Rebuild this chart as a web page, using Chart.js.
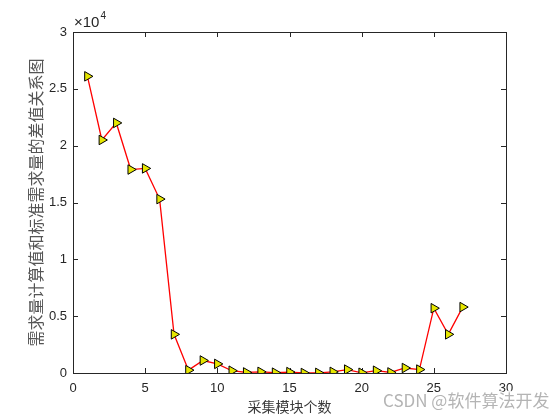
<!DOCTYPE html>
<html>
<head>
<meta charset="utf-8">
<script src="https://cdn.jsdelivr.net/npm/chart.js@4/dist/chart.umd.min.js"></script>
<style>
  html, body { margin: 0; padding: 0; background: #fff; }
  #wrap { width: 560px; height: 420px; position: relative; }
</style>
</head>
<body>
<div id="wrap"><canvas id="c"></canvas></div>
<script>
// ── data ──
const moduleCount = [1, 2, 3, 4, 5, 6, 7, 8, 9, 10, 11, 12, 13, 14, 15, 16, 17, 18, 19, 20, 21, 22, 23, 24, 25, 26, 27];
const diffValues = [26100, 20500, 22000, 17900, 18000, 15300, 3400, 250, 1100, 800, 200, 50, 100, 30, 80, 0, 10, 100, 300, 20, 200, 50, 440, 300, 5700, 3400, 5800];
const xTicks = [0, 5, 10, 15, 20, 25, 30];
const yTicks = [0, 5000, 10000, 15000, 20000, 25000, 30000];
const yTickLabels = ['0', '0.5', '1', '1.5', '2', '2.5', '3'];

const axisColor = '#262626';
const tickFont = { family: '"Liberation Sans", Arial, sans-serif', size: 13 };
const cjkFont = '"Noto Sans CJK SC", sans-serif';

// MATLAB-style box with inward ticks on all four sides
const boxTicks = {
  id: 'boxTicks',
  beforeDatasetsDraw(chart) {
    const { ctx, chartArea: a, scales: { x, y } } = chart;
    ctx.save();
    ctx.strokeStyle = axisColor;
    ctx.lineWidth = 1;
    ctx.strokeRect(a.left + 0.5, a.top + 0.5, a.right - a.left, a.bottom - a.top);
    ctx.beginPath();
    xTicks.forEach(v => {
      const px = Math.round(x.getPixelForValue(v)) + 0.5;
      ctx.moveTo(px, a.bottom); ctx.lineTo(px, a.bottom - 5);
      ctx.moveTo(px, a.top); ctx.lineTo(px, a.top + 5);
    });
    yTicks.forEach(v => {
      const py = Math.round(y.getPixelForValue(v)) + 0.5;
      ctx.moveTo(a.left, py); ctx.lineTo(a.left + 5, py);
      ctx.moveTo(a.right, py); ctx.lineTo(a.right - 5, py);
    });
    ctx.stroke();
    ctx.restore();
  },
  afterDraw(chart) {
    const { ctx, chartArea: a } = chart;
    ctx.save();
    // exponent label
    ctx.fillStyle = axisColor;
    ctx.textBaseline = 'alphabetic';
    ctx.font = '15px "Liberation Sans", Arial, sans-serif';
    ctx.fillText('\u00d710', a.left + 1, a.top - 5);
    const w = ctx.measureText('\u00d710').width;
    ctx.font = '10px "Liberation Sans", Arial, sans-serif';
    ctx.fillText('4', a.left + 2 + w, a.top - 13);
    // watermark
    ctx.font = '17px ' + cjkFont;
    ctx.textBaseline = 'middle';
    ctx.lineWidth = 3;
    ctx.strokeStyle = 'rgba(255,255,255,0.9)';
    ctx.strokeText('CSDN @软件算法开发', 383, 401);
    ctx.fillStyle = '#b4b4b4';
    ctx.fillText('CSDN @软件算法开发', 383, 401);
    ctx.restore();
  }
};

new Chart(document.getElementById('c'), {
  type: 'line',
  data: {
    datasets: [{
      data: moduleCount.map((m, i) => ({ x: m, y: diffValues[i] })),
      borderColor: '#ff0000',
      borderWidth: 1.3,
      tension: 0,
      pointStyle: 'triangle',
      pointRotation: 90,
      pointRadius: 5.5,
      pointBackgroundColor: '#e6e600',
      pointBorderColor: '#000000',
      pointBorderWidth: 1,
    }],
  },
  options: {
    responsive: true, maintainAspectRatio: false, animation: false,
    layout: { padding: { left: 0, top: 32, right: 54, bottom: 0 } },
    plugins: { legend: { display: false }, tooltip: { enabled: false } },
    scales: {
      x: {
        type: 'linear', min: 0, max: 30,
        grid: { display: false, drawTicks: false },
        border: { display: false },
        afterFit: s => { s.height = 47; },
        afterBuildTicks: s => { s.ticks = xTicks.map(v => ({ value: v })); },
        ticks: { color: axisColor, font: tickFont, padding: 8, maxRotation: 0 },
        title: { display: true, text: '采集模块个数', color: '#3a3a3a', font: { family: cjkFont, size: 14 }, padding: { bottom: 5 } },
      },
      y: {
        min: 0, max: 30000,
        grid: { display: false, drawTicks: false },
        border: { display: false },
        afterFit: s => { s.width = 73; },
        afterBuildTicks: s => { s.ticks = yTicks.map(v => ({ value: v })); },
        ticks: { color: axisColor, font: tickFont, padding: 6, callback: v => yTickLabels[yTicks.indexOf(v)] },
        title: { display: true, text: '需求量计算值和标准需求量的差值关系图', color: '#555555', font: { family: cjkFont, size: 16 }, padding: { top: 26 } },
      },
    },
  },
  plugins: [boxTicks],
});
</script>
</body>
</html>
